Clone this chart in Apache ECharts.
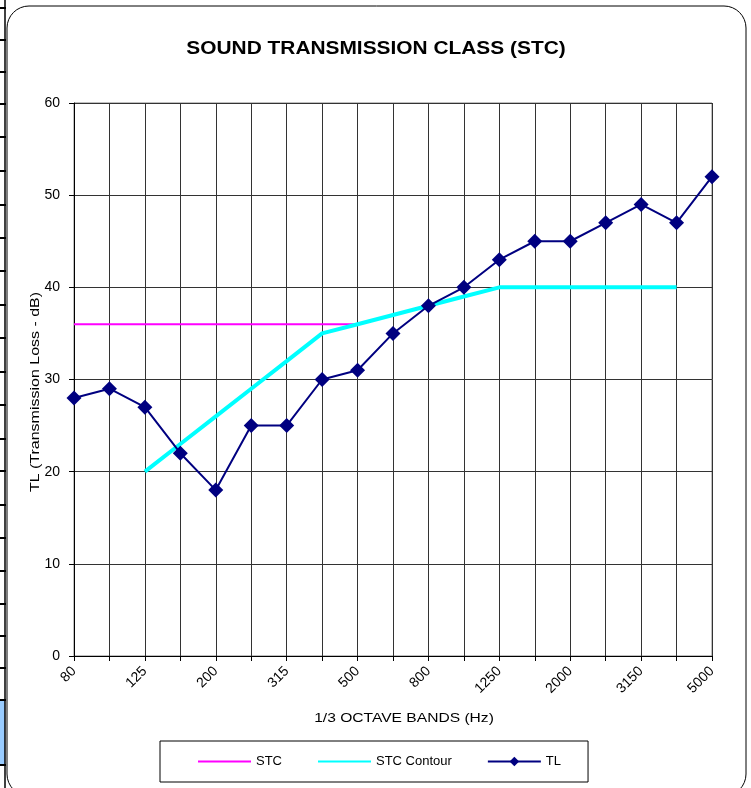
<!DOCTYPE html>
<html>
<head>
<meta charset="utf-8">
<style>
  html, body { margin: 0; padding: 0; background: #fff; }
  #chart { width: 751px; height: 788px; }
</style>
<script src="https://cdn.jsdelivr.net/npm/echarts@6/dist/echarts.min.js"></script>
</head>
<body>
<div id="chart"></div>
<script>
// 1/3 octave bands (Hz)
const bands = ['80', '100', '125', '160', '200', '250', '315', '400', '500', '630',
  '800', '1000', '1250', '1600', '2000', '2500', '3150', '4000', '5000']

// measured transmission loss
const tl = [28, 29, 27, 22, 18, 25, 25, 30, 31, 35, 38, 40, 43, 45, 45, 47, 49, 47, 52]

// STC rating line (80 - 500 Hz)
const stc = [36, 36, 36, 36, 36, 36, 36, 36, 36, null, null, null, null, null, null, null, null, null, null]

// STC contour (125 - 4000 Hz)
const contour = [null, null, 20, 23, 26, 29, 32, 35, 36, 37, 38, 39, 40, 40, 40, 40, 40, 40, null]

const font = 'Liberation Sans, Arial, sans-serif'

const chart = echarts.init(document.getElementById('chart'))

// left edge leftovers of the sheet
const sideMarks = [8, 40, 72, 104, 137, 171, 205, 238, 271, 305, 338, 372, 405, 439, 471, 505, 538, 571, 604, 636, 668, 700, 765]
const decor = [
  { type: 'rect', shape: { x: 0, y: 700, width: 5, height: 65 }, style: { fill: '#99ccff' } },
  { type: 'line', shape: { x1: 5, y1: 0, x2: 5, y2: 788 }, style: { stroke: '#000', lineWidth: 1.5 } }
]
sideMarks.forEach(y => decor.push({
  type: 'line', shape: { x1: 0, y1: y, x2: 6, y2: y }, style: { stroke: '#000', lineWidth: 2 }
}))
decor.push({
  type: 'rect',
  shape: { x: 7, y: 6, width: 739, height: 790, r: 22 },
  style: { fill: 'none', stroke: '#000', lineWidth: 1 }
})

// title and axis names (the source text is drawn a bit wide)
decor.push({
  type: 'text', x: 376, y: 49, scaleX: 1.16,
  style: {
    text: 'SOUND TRANSMISSION CLASS (STC)', fill: '#000',
    font: 'bold 18px ' + font, align: 'center', verticalAlign: 'middle'
  }
})
decor.push({
  type: 'text', x: 404, y: 718, scaleX: 1.2,
  style: {
    text: '1/3 OCTAVE BANDS (Hz)', fill: '#000',
    font: '13px ' + font, align: 'center', verticalAlign: 'middle'
  }
})
decor.push({
  type: 'text', x: 35, y: 392, rotation: Math.PI / 2, scaleX: 1.23,
  style: {
    text: 'TL (Transmission Loss - dB)', fill: '#000',
    font: '13px ' + font, align: 'center', verticalAlign: 'middle'
  }
})

chart.setOption({
  animation: false,
  graphic: decor,
  grid: {
    left: 74, right: 39, top: 103, bottom: 132,
    show: true, borderColor: '#808080', borderWidth: 1
  },
  legend: {
    left: 160,
    top: 741,
    padding: [14, 27, 14, 37],
    itemGap: 35,
    itemWidth: 53,
    itemHeight: 12,
    borderColor: '#000',
    borderWidth: 1,
    textStyle: { fontFamily: font, fontSize: 13, color: '#000' },
    data: [
      { name: 'STC', itemStyle: { opacity: 0 } },
      { name: 'STC Contour', itemStyle: { opacity: 0 } },
      { name: 'TL' }
    ]
  },
  xAxis: {
    type: 'category',
    data: bands,
    boundaryGap: false,
    axisLine: { lineStyle: { color: '#000' } },
    axisTick: { interval: 0, length: 5, lineStyle: { color: '#000' } },
    axisLabel: {
      interval: 1, rotate: 45, margin: 13,
      fontFamily: font, fontSize: 14, color: '#000'
    },
    splitLine: { show: true, interval: 0, lineStyle: { color: '#333', width: 1 } }
  },
  yAxis: {
    type: 'value',
    min: 0, max: 60, interval: 10,
    axisLine: { show: true, lineStyle: { color: '#000' } },
    axisTick: { show: true, length: 5, lineStyle: { color: '#000' } },
    axisLabel: { margin: 14, fontFamily: font, fontSize: 14, color: '#000' },
    splitLine: { show: true, lineStyle: { color: '#333', width: 1 } }
  },
  series: [
    {
      name: 'STC', type: 'line', data: stc,
      showSymbol: false, symbol: 'none',
      lineStyle: { color: '#ff00ff', width: 2 },
      itemStyle: { color: '#ff00ff' }
    },
    {
      name: 'STC Contour', type: 'line', data: contour,
      showSymbol: false, symbol: 'none',
      lineStyle: { color: '#00ffff', width: 4 },
      itemStyle: { color: '#00ffff' }
    },
    {
      name: 'TL', type: 'line', data: tl,
      symbol: 'diamond', symbolSize: 15,
      lineStyle: { color: '#000080', width: 2 },
      itemStyle: { color: '#000080' }
    }
  ]
})
</script>
</body>
</html>
